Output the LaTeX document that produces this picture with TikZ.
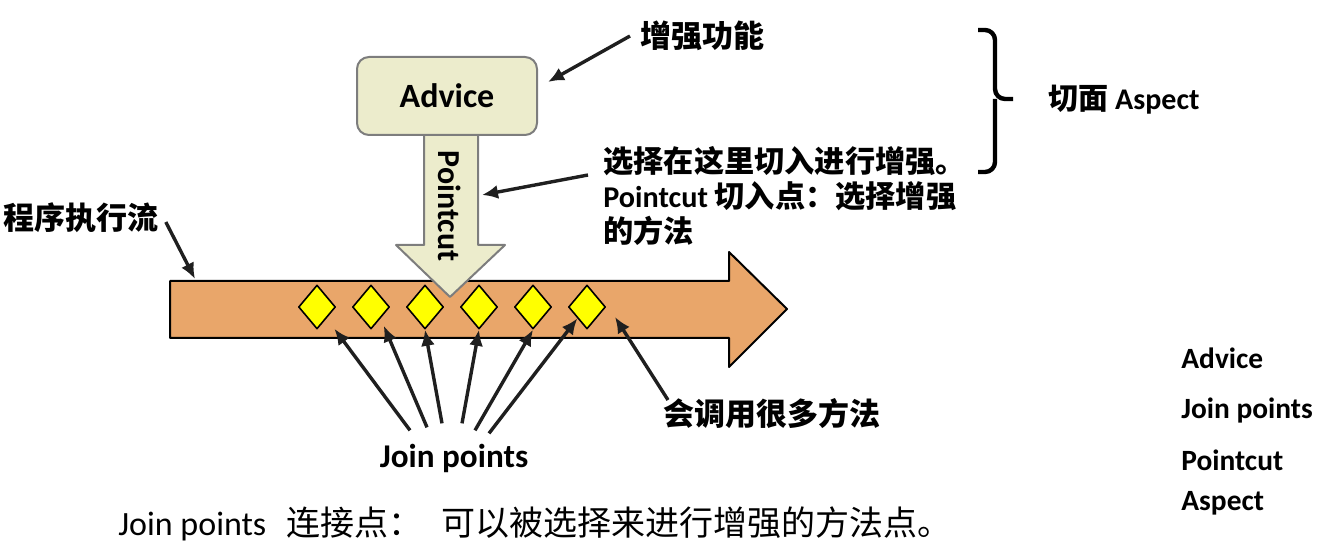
\documentclass[tikz,border=0pt]{standalone}
\usepackage{fontspec}
\setmainfont{Carlito}
\newfontfamily\cjk{Noto Sans CJK SC}
\usetikzlibrary{arrows.meta,shapes.geometric}

\definecolor{adviceFill}{RGB}{236,236,204}
\definecolor{adviceLine}{RGB}{125,125,125}
\definecolor{flowOrange}{RGB}{233,166,106}
\definecolor{jpYellow}{RGB}{255,255,0}

\newcommand\zh[1]{{\cjk #1}}
\newcommand\fsz[2]{\fontsize{#1}{#2}\selectfont}

\tikzset{
  callout/.style={-{Latex[length=8pt,width=7pt]}, line width=1.7pt, draw=black!88},
  txt/.style={font=\bfseries\fsz{15.5}{18}, inner sep=0pt},
  advicebox/.style={draw=adviceLine, fill=adviceFill, line width=1pt, rounded corners=6pt,
    minimum width=90pt, minimum height=39pt, font=\bfseries\fsz{17}{20}},
  jpdiamond/.style={diamond, draw, fill=jpYellow, line width=0.8pt, inner sep=0pt,
    minimum width=18.5pt, minimum height=22pt}
}

\begin{document}
\begin{tikzpicture}[x=0.5pt,y=-0.5pt,line join=round]
  \useasboundingbox (0,0) rectangle (1325,544);

  % program flow arrow
  \filldraw[fill=flowOrange, line width=1pt]
    (170,281) -- (729,281) -- (729,252) -- (787,309)
    -- (729,367) -- (729,338) -- (170,338) -- cycle;
  \coordinate (flowin) at (195,279);
  \coordinate (callpt) at (615,317);

  % pointcut arrow
  \filldraw[fill=adviceFill, draw=adviceLine, line width=1pt]
    (424,125) -- (424,245) -- (396,245) -- (450,297)
    -- (505,245) -- (478,245) -- (478,125) -- cycle;
  \node[rotate=-90, inner sep=0pt, font=\bfseries\fsz{16}{18}] (pctext) at (450,206) {Pointcut};
  \coordinate (pcright) at (482,195);

  \node[advicebox] (advice) at (447,96) {Advice};

  \foreach \i in {1,...,6}{
    \node[jpdiamond] (d\i) at ({317+54*(\i-1)},307) {};
  }

  % labels
  \node[txt, anchor=west] (enh) at (640,36) {\zh{增强功能}};
  \node[txt, anchor=west] (flowtxt) at (3,218) {\zh{程序执行流}};
  \node[txt, anchor=west, align=left, font=\bfseries\fsz{15.1}{17.5}] (cut) at (603,196)
    {\zh{选择在这里切入进行增强。}\\Pointcut \zh{切入点：选择增强}\\\zh{的方法}};
  \node[txt, anchor=west] (calls) at (663,414) {\zh{会调用很多方法}};
  \node[inner sep=0pt, font=\bfseries\fsz{16.6}{20}] (jp) at (454,458) {Join points};
  \node[txt, anchor=west, font=\bfseries\fsz{15}{18}] (aspect) at (1048,100) {\zh{切面} Aspect};

  % brace
  \draw[line width=2.2pt, rounded corners=5pt] (978,30) -- (995,30) -- (995,99) -- (1013,99);
  \draw[line width=2.2pt, rounded corners=5pt] (995,99) -- (995,172) -- (978,172);

  % term list
  \node[txt, anchor=west, font=\bfseries\fsz{14.7}{18}] (tAdvice) at (1181,358) {Advice};
  \node[txt, anchor=west, font=\bfseries\fsz{14.7}{18}] (tJoin) at (1181,410) {Join points};
  \node[txt, anchor=west, font=\bfseries\fsz{14.7}{18}] (tCut) at (1181,460) {Pointcut};
  \node[txt, anchor=west, font=\bfseries\fsz{14.7}{18}] (tAspect) at (1181,503) {Aspect};

  \node[anchor=west, inner sep=0pt, font=\fsz{17}{20}] (defn) at (118,524)
    {Join points\hspace{10pt}\zh{连接点：}\hspace{9.5pt}\zh{可以被选择来进行增强的方法点。}};

  % arrows
  \draw[callout] ([xshift=-5pt]enh.west) -- ([shift={(10,-14)}]advice.east);
  \draw[callout] ([shift={(7,4)}]flowtxt.east) -- (flowin);
  \draw[callout] ([shift={(-15,-21)}]cut.west) -- (pcright);
  \draw[callout] ([shift={(5,-14)}]calls.west) -- (callpt);
  \foreach \i/\dx/\dy/\a/\s in {1/-44/-13/south east/6.5pt, 2/-27/-16/south east/4pt,
      3/-12/-20/south/0pt, 4/8/-20/south/0pt, 5/21/-13/south/0pt, 6/35/-10/south west/0pt}{
    \draw[callout, shorten >=\s] ([shift={(\dx,\dy)}]jp.north) -- (d\i.\a);
  }
\end{tikzpicture}
\end{document}
